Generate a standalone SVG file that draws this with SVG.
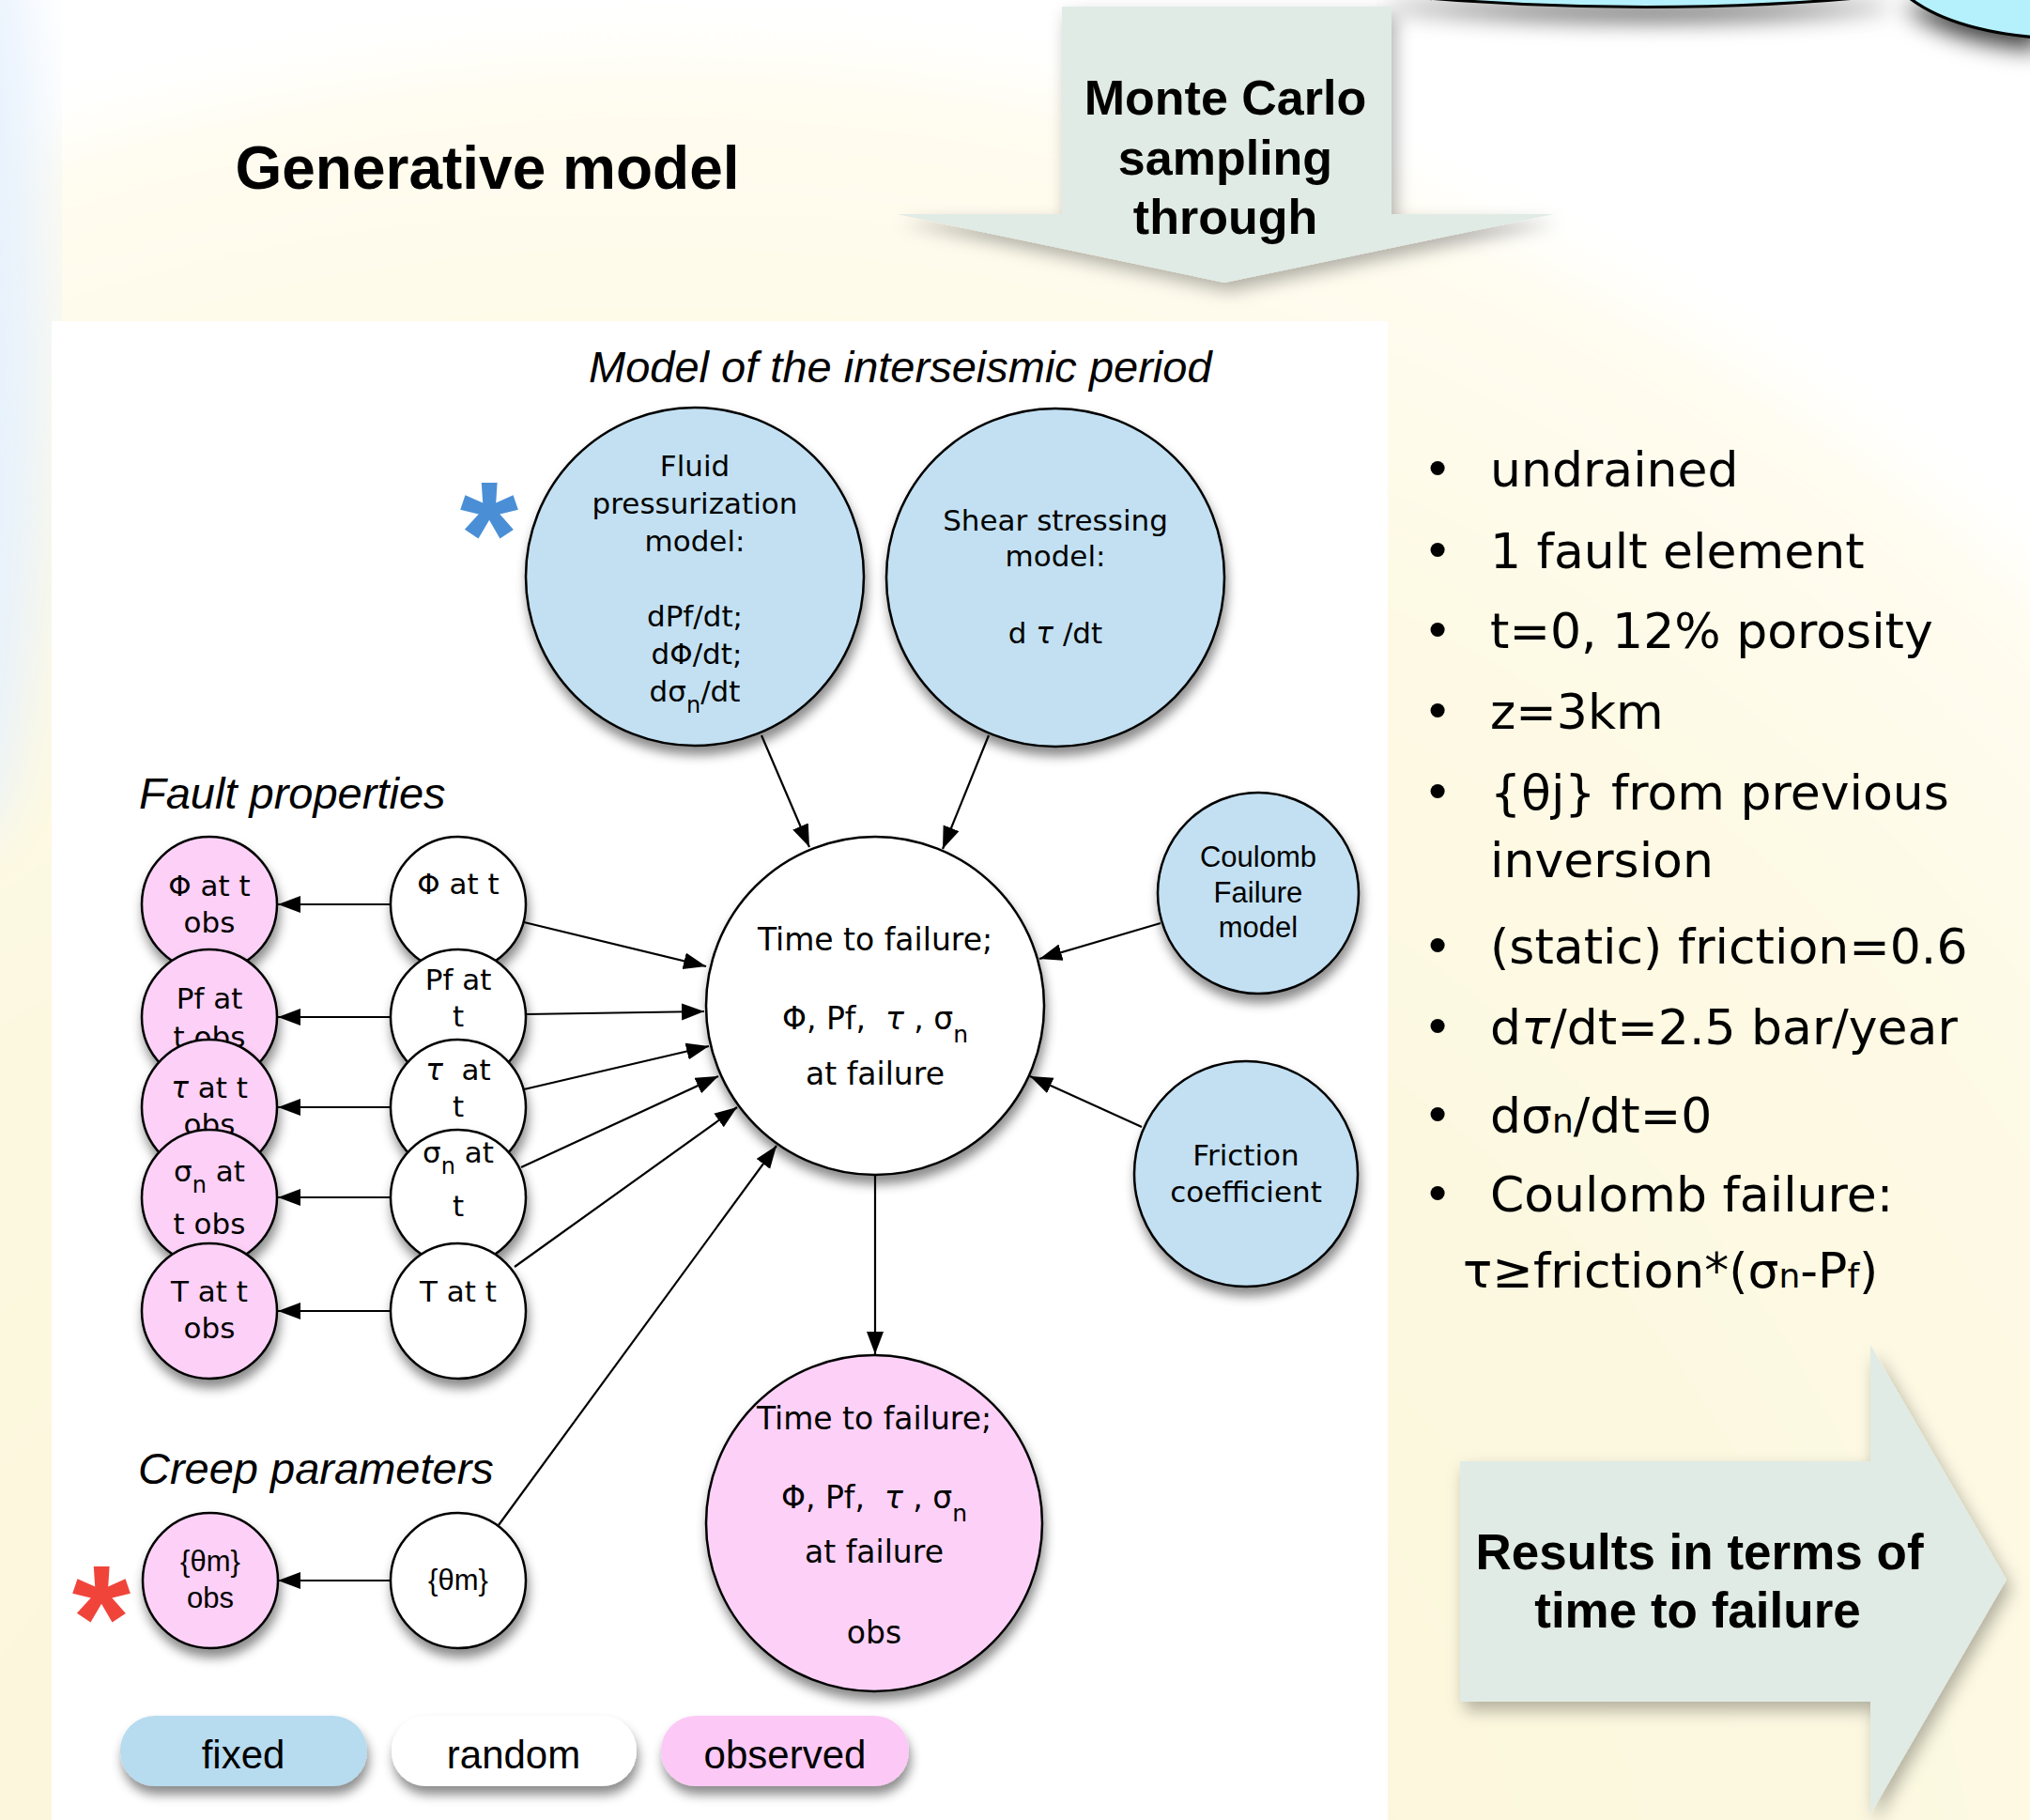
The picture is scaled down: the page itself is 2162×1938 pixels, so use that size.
<svg xmlns="http://www.w3.org/2000/svg" width="2162" height="1938" viewBox="0 0 2162 1938">
<defs>
<style>
.nt{font-family:"DejaVu Sans","Liberation Sans",sans-serif;font-size:31px;fill:#000;text-anchor:middle}
.ct{font-size:33px}
.ht{font-family:"Liberation Sans",Arial,sans-serif;font-size:31px;fill:#000;text-anchor:middle}
.fixed{fill:#c2e0f2;stroke:#000;stroke-width:2.5}
.random{fill:#fff;stroke:#000;stroke-width:2.5}
.observed{fill:#fdd1f7;stroke:#000;stroke-width:2.5}
.edge{stroke:#000;stroke-width:2.2;fill:none;marker-end:url(#ah)}
.lbl{font-family:"Liberation Sans",Arial,sans-serif;font-style:italic;font-size:47px;fill:#000}
.bul{font-family:"DejaVu Sans",Verdana,sans-serif;font-size:52px;fill:#000}
.big{font-family:"Liberation Sans",Arial,sans-serif;font-weight:bold;fill:#000;text-anchor:middle}
.leg{font-family:"Liberation Sans",Arial,sans-serif;font-size:42px;fill:#000;text-anchor:middle}
.pill{stroke:none}
.bigarrow{fill:#e1ebe5}
</style>
<marker id="ah" markerUnits="userSpaceOnUse" markerWidth="26" markerHeight="20" refX="24" refY="9" orient="auto">
<path d="M0,0 L24,9 L0,18 Z" fill="#000"/>
</marker>
<filter id="sh" x="-30%" y="-30%" width="160%" height="170%">
<feDropShadow dx="2" dy="9" stdDeviation="6" flood-color="#000" flood-opacity="0.45"/>
</filter>
<filter id="ash" x="-20%" y="-20%" width="140%" height="150%">
<feDropShadow dx="5" dy="9" stdDeviation="9" flood-color="#000" flood-opacity="0.3"/>
</filter>
<filter id="bsh" x="-20%" y="-50%" width="140%" height="400%">
<feDropShadow dx="0" dy="12" stdDeviation="12" flood-color="#000" flood-opacity="0.75"/>
</filter>
<filter id="blur" x="-10%" y="-10%" width="120%" height="120%">
<feGaussianBlur stdDeviation="30"/>
</filter>
<radialGradient id="yg" cx="0.5" cy="0.5" r="0.5">
<stop offset="0" stop-color="#fbf6d6"/>
<stop offset="0.8" stop-color="#fdf9e4"/>
<stop offset="1" stop-color="#fffdf2"/>
</radialGradient>
</defs>

<g id="background">
<rect x="0" y="0" width="2162" height="1938" fill="#fff"/>
<circle cx="700" cy="2233" r="2180" fill="url(#yg)" filter="url(#blur)"/>
<ellipse cx="-30" cy="380" rx="80" ry="520" fill="#e8f2fd" filter="url(#blur)"/>
<rect x="55" y="342" width="1423" height="1600" fill="#fff"/>
</g>

<g id="top-right-blobs" filter="url(#bsh)">
<path d="M1480,-5 Q1760,20 2010,-5 Z" fill="#b5f1fc" stroke="#000" stroke-width="3"/>
<path d="M2030,-5 Q2075,32 2170,40 L2170,-5 Z" fill="#b5f1fc" stroke="#000" stroke-width="3"/>
</g>

<g id="monte-carlo-arrow">
<polygon class="bigarrow" filter="url(#ash)" points="1131,7 1482,7 1482,228 1655,228 1304,301 955,228 1131,228"/>
<text class="big" font-size="52" x="1305" y="122">Monte Carlo</text>
<text class="big" font-size="52" x="1305" y="186">sampling</text>
<text class="big" font-size="52" x="1305" y="249">through</text>
</g>

<text id="title" class="big" font-size="64" x="519" y="201">Generative model</text>

<g id="results-arrow">
<polygon class="bigarrow" filter="url(#ash)" points="1555,1556 1992,1556 1992,1432 2137,1682 1992,1932 1992,1812 1555,1812"/>
<text class="big" font-size="53" x="1810" y="1671">Results in terms of</text>
<text class="big" font-size="53" x="1808" y="1733">time to failure</text>
</g>

<g id="bullets" class="bul">
<text x="1531" y="518" text-anchor="middle">•</text><text x="1587" y="518">undrained</text>
<text x="1531" y="605" text-anchor="middle">•</text><text x="1587" y="605">1 fault element</text>
<text x="1531" y="690" text-anchor="middle">•</text><text x="1587" y="690">t=0, 12% porosity</text>
<text x="1531" y="776" text-anchor="middle">•</text><text x="1587" y="776">z=3km</text>
<text x="1531" y="862" text-anchor="middle">•</text><text x="1587" y="862">{θj} from previous</text>
<text x="1587" y="934">inversion</text>
<text x="1531" y="1026" text-anchor="middle">•</text><text x="1587" y="1026">(static) friction=0.6</text>
<text x="1531" y="1112" text-anchor="middle">•</text><text x="1587" y="1112">d<tspan font-style="italic">τ</tspan>/dt=2.5 bar/year</text>
<text x="1531" y="1206" text-anchor="middle">•</text><text x="1587" y="1206">dσ<tspan font-size="36">n</tspan>/dt=0</text>
<text x="1531" y="1290" text-anchor="middle">•</text><text x="1587" y="1290">Coulomb failure:</text>
<text x="1558" y="1371">τ≥friction*(σ<tspan font-size="36">n</tspan>-P<tspan font-size="36">f</tspan>)</text>
</g>

<text class="lbl" x="627" y="407">Model of the interseismic period</text>
<text class="lbl" x="148" y="861">Fault properties</text>
<text class="lbl" x="147" y="1580">Creep parameters</text>

<g id="nodes">
<g id="fluid">
<circle class="fixed" cx="740" cy="614" r="180" filter="url(#sh)"/>
<text class="nt" x="740" y="507">Fluid</text>
<text class="nt" x="740" y="547">pressurization</text>
<text class="nt" x="740" y="587">model:</text>
<text class="nt" x="740" y="667">dPf/dt;</text>
<text class="nt" x="742" y="707">dΦ/dt;</text>
<text class="nt" x="740" y="747">dσ<tspan font-size="24" dy="12">n</tspan><tspan dy="-12">/dt</tspan></text>
</g>
<g id="shear">
<circle class="fixed" cx="1124" cy="615" r="180" filter="url(#sh)"/>
<text class="nt" x="1124" y="565">Shear stressing</text>
<text class="nt" x="1124" y="603">model:</text>
<text class="nt" x="1124" y="685" xml:space="preserve">d <tspan font-style="italic">τ</tspan> /dt</text>
</g>
<g id="coulomb">
<circle class="fixed" cx="1340" cy="951" r="107" filter="url(#sh)"/>
<text class="ht" x="1340" y="923">Coulomb</text>
<text class="ht" x="1340" y="961">Failure</text>
<text class="ht" x="1340" y="998">model</text>
</g>
<g id="friction">
<ellipse class="fixed" cx="1327" cy="1250" rx="119" ry="120" filter="url(#sh)"/>
<text class="nt" x="1327" y="1241">Friction</text>
<text class="nt" x="1327" y="1280">coefficient</text>
</g>
<g id="ttf">
<circle class="random" cx="932" cy="1071" r="180" filter="url(#sh)"/>
<text class="nt ct" x="932" y="1012">Time to failure;</text>
<text class="nt ct" x="932" y="1096" xml:space="preserve">Φ, Pf,  <tspan font-style="italic">τ</tspan> , σ<tspan font-size="25" dy="14">n</tspan></text>
<text class="nt ct" x="932" y="1155">at failure</text>
</g>
<g id="ttf-obs">
<circle class="observed" cx="931" cy="1622" r="179" filter="url(#sh)"/>
<text class="nt ct" x="931" y="1522">Time to failure;</text>
<text class="nt ct" x="931" y="1606" xml:space="preserve">Φ, Pf,  <tspan font-style="italic">τ</tspan> , σ<tspan font-size="25" dy="14">n</tspan></text>
<text class="nt ct" x="931" y="1664">at failure</text>
<text class="nt ct" x="931" y="1750">obs</text>
</g>

<g id="phi-obs">
<circle class="observed" cx="223" cy="963" r="72" filter="url(#sh)"/>
<text class="nt" x="223" y="954">Φ at t</text>
<text class="nt" x="223" y="993">obs</text>
</g>
<g id="pf-obs">
<circle class="observed" cx="223" cy="1083" r="72" filter="url(#sh)"/>
<text class="nt" x="223" y="1074">Pf at</text>
<text class="nt" x="223" y="1115">t obs</text>
</g>
<g id="tau-obs">
<circle class="observed" cx="223" cy="1179" r="72" filter="url(#sh)"/>
<text class="nt" x="223" y="1169"><tspan font-style="italic">τ</tspan> at t</text>
<text class="nt" x="223" y="1208">obs</text>
</g>
<g id="sigma-obs">
<circle class="observed" cx="223" cy="1275" r="72" filter="url(#sh)"/>
<text class="nt" x="223" y="1258" xml:space="preserve">σ<tspan font-size="24" dy="12">n</tspan><tspan dy="-12"> at</tspan></text>
<text class="nt" x="223" y="1314">t obs</text>
</g>
<g id="T-obs">
<circle class="observed" cx="223" cy="1396" r="72" filter="url(#sh)"/>
<text class="nt" x="223" y="1386">T at t</text>
<text class="nt" x="223" y="1425">obs</text>
</g>

<g id="phi">
<circle class="random" cx="488" cy="963" r="72" filter="url(#sh)"/>
<text class="nt" x="488" y="952">Φ at t</text>
</g>
<g id="pf">
<circle class="random" cx="488" cy="1083" r="72" filter="url(#sh)"/>
<text class="nt" x="488" y="1054">Pf at</text>
<text class="nt" x="488" y="1093">t</text>
</g>
<g id="tau">
<circle class="random" cx="488" cy="1179" r="72" filter="url(#sh)"/>
<text class="nt" x="488" y="1150" xml:space="preserve"><tspan font-style="italic">τ</tspan>  at</text>
<text class="nt" x="488" y="1189">t</text>
</g>
<g id="sigma">
<circle class="random" cx="488" cy="1275" r="72" filter="url(#sh)"/>
<text class="nt" x="488" y="1238" xml:space="preserve">σ<tspan font-size="24" dy="12">n</tspan><tspan dy="-12"> at</tspan></text>
<text class="nt" x="488" y="1295">t</text>
</g>
<g id="T">
<circle class="random" cx="488" cy="1396" r="72" filter="url(#sh)"/>
<text class="nt" x="488" y="1386">T at t</text>
</g>

<g id="theta-obs">
<circle class="observed" cx="224" cy="1683" r="72" filter="url(#sh)"/>
<text class="ht" x="224" y="1673" font-size="30">{θm}</text>
<text class="ht" x="224" y="1712" font-size="30">obs</text>
</g>
<g id="theta">
<circle class="random" cx="488" cy="1683" r="72" filter="url(#sh)"/>
<text class="ht" x="488" y="1693" font-size="30">{θm}</text>
</g>
</g>

<g id="connectors">
<line class="edge" x1="416" y1="963" x2="296" y2="963"/>
<line class="edge" x1="416" y1="1083" x2="296" y2="1083"/>
<line class="edge" x1="416" y1="1179" x2="296" y2="1179"/>
<line class="edge" x1="416" y1="1275" x2="296" y2="1275"/>
<line class="edge" x1="416" y1="1396" x2="296" y2="1396"/>
<line class="edge" x1="416" y1="1683" x2="296" y2="1683"/>
<line class="edge" x1="558" y1="982" x2="752" y2="1029"/>
<line class="edge" x1="560" y1="1080" x2="750" y2="1077"/>
<line class="edge" x1="558" y1="1160" x2="755" y2="1114"/>
<line class="edge" x1="555" y1="1243" x2="765" y2="1146"/>
<line class="edge" x1="548" y1="1349" x2="785" y2="1179"/>
<line class="edge" x1="531" y1="1624" x2="827" y2="1220"/>
<line class="edge" x1="811" y1="783" x2="862" y2="902"/>
<line class="edge" x1="1053" y1="783" x2="1004" y2="904"/>
<line class="edge" x1="1236" y1="983" x2="1107" y2="1021"/>
<line class="edge" x1="1216" y1="1200" x2="1097" y2="1146"/>
<line class="edge" x1="932" y1="1251" x2="932" y2="1442"/>
</g>

<g id="legend">
<g filter="url(#sh)">
<rect class="pill" x="128" y="1827" width="263" height="75" rx="37" fill="#b7dbef"/>
<rect class="pill" x="417" y="1827" width="261" height="75" rx="37" fill="#fff"/>
<rect class="pill" x="704" y="1827" width="264" height="75" rx="37" fill="#fcc9f6"/>
</g>
<text class="leg" x="259" y="1883">fixed</text>
<text class="leg" x="547" y="1883">random</text>
<text class="leg" x="836" y="1883">observed</text>
</g>

<text id="blue-star" x="521" y="624" font-family="Liberation Sans, Arial, sans-serif" font-weight="bold" font-size="160" fill="#4a8fd6" text-anchor="middle">*</text>
<text id="red-star" x="108" y="1778" font-family="Liberation Sans, Arial, sans-serif" font-weight="bold" font-size="160" fill="#f0443a" text-anchor="middle">*</text>
</svg>
